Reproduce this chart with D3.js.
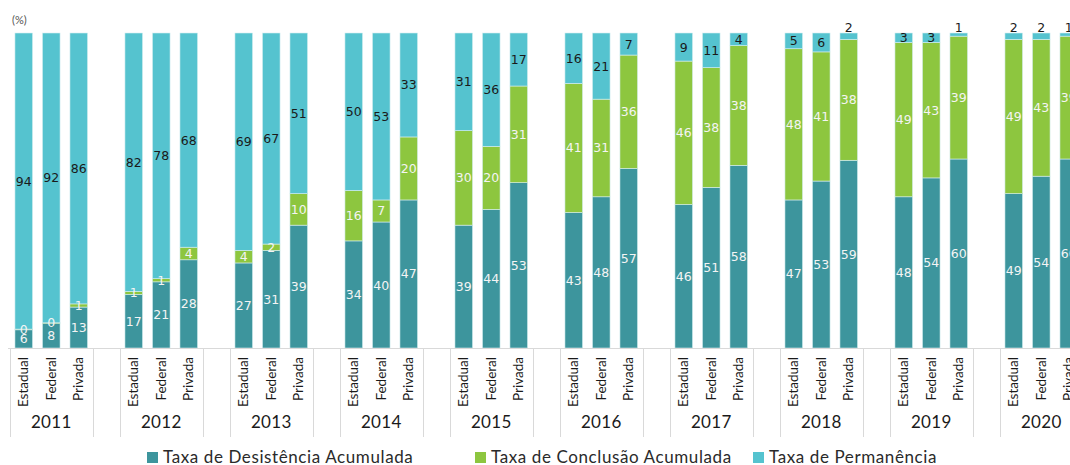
<!DOCTYPE html>
<html>
<head>
<meta charset="utf-8">
<script src="https://cdn.jsdelivr.net/npm/d3@7"></script>
<style>
    body { margin: 0; background: #fff; }
    svg text { font-family: Lato, "Open Sans", sans-serif; }
</style>
</head>
<body>
<svg id="chart" width="1070" height="465"></svg>
<script>
const years = ["2011", "2012", "2013", "2014", "2015", "2016", "2017", "2018", "2019", "2020"];
const kinds = ["Estadual", "Federal", "Privada"];
const seriesNames = ["Taxa de Desistência Acumulada", "Taxa de Conclusão Acumulada", "Taxa de Permanência"];

// per year: [Estadual, Federal, Privada]
const desistencia = [
    [6, 8, 13], [17, 21, 28], [27, 31, 39], [34, 40, 47], [39, 44, 53],
    [43, 48, 57], [46, 51, 58], [47, 53, 59], [48, 54, 60], [49, 54, 60]
];
const conclusao = [
    [0, 0, 1], [1, 1, 4], [4, 2, 10], [16, 7, 20], [30, 20, 31],
    [41, 31, 36], [46, 38, 38], [48, 41, 38], [49, 43, 39], [49, 43, 39]
];
const permanencia = [
    [94, 92, 86], [82, 78, 68], [69, 67, 51], [50, 53, 33], [31, 36, 17],
    [16, 21, 7], [9, 11, 4], [5, 6, 2], [3, 3, 1], [2, 2, 1]
];

const colors = ["#3d959d", "#8dc63f", "#55c3cf"];
const labelColors = ["#f4f4f4", "#f4f4f4", "#1a1a1a"];

const ctx = {
    LEFT: 10,
    SLOT: 27.5,
    TOP: 33,
    BOTTOM: 348,
    AXIS_END: 437,
};

const svg = d3.select("#chart");

// flat rows, one per bar, plus an empty slot after each year
const rows = [];
const slots = [];
years.forEach((y, i) => {
    kinds.forEach((k, j) => {
        const key = y + "|" + k;
        slots.push(key);
        rows.push({
            key: key, year: y, kind: k,
            s0: desistencia[i][j], s1: conclusao[i][j], s2: permanencia[i][j]
        });
    });
    slots.push(y + "|gap");
});

const x = d3.scaleBand()
    .domain(slots)
    .range([ctx.LEFT, ctx.LEFT + ctx.SLOT * slots.length])
    .paddingInner(0.36)
    .paddingOuter(0.18);

const y = d3.scaleLinear().domain([0, 1]).range([ctx.BOTTOM, ctx.TOP]);

const stack = d3.stack()
    .keys(["s0", "s1", "s2"])
    .offset(d3.stackOffsetExpand);
const stacked = stack(rows);

const layers = svg.append("g").selectAll("g")
    .data(stacked)
    .join("g")
    .attr("fill", (d, i) => colors[i]);

layers.selectAll("rect")
    .data(d => d)
    .join("rect")
    .attr("x", d => x(d.data.key))
    .attr("width", x.bandwidth())
    .attr("y", d => y(d[1]))
    .attr("height", d => Math.max(0.8, y(d[0]) - y(d[1])))
    .attr("stroke", "#d6eef0")
    .attr("stroke-width", 0.6);

// value labels
stacked.forEach((layer, i) => {
    svg.append("g").selectAll("text")
        .data(layer)
        .join("text")
        .attr("x", d => x(d.data.key) + x.bandwidth() / 2)
        .attr("y", d => {
            const h = y(d[0]) - y(d[1]);
            if (i === 2 && h < 7) return y(d[1]) - 1;
            return (y(d[0]) + y(d[1])) / 2 + 4.5;
        })
        .attr("text-anchor", "middle")
        .style("font-family", "'DejaVu Sans', Verdana, sans-serif")
        .style("font-size", "12.5px")
        .attr("fill", labelColors[i])
        .text(d => d.data["s" + i]);
});

// category axis
const axis = svg.append("g");
axis.append("line")
    .attr("x1", ctx.LEFT - 2).attr("x2", 1070)
    .attr("y1", ctx.BOTTOM + 0.5).attr("y2", ctx.BOTTOM + 0.5)
    .attr("stroke", "#d9d9d9");

years.forEach(yr => {
    const start = x(yr + "|Estadual") - x.step() * x.paddingInner() / 2;
    const end = start + x.step() * 3;
    [start, end].forEach(px => {
        axis.append("line")
            .attr("x1", Math.round(px) + 0.5).attr("x2", Math.round(px) + 0.5)
            .attr("y1", ctx.BOTTOM).attr("y2", ctx.AXIS_END)
            .attr("stroke", "#d9d9d9");
    });
    axis.append("text")
        .attr("x", (start + end) / 2)
        .attr("y", 428)
        .attr("text-anchor", "middle")
        .style("font-size", "17px")
        .style("letter-spacing", "0.3px")
        .attr("fill", "#1a1a1a")
        .text(yr);
});

axis.selectAll(".kind")
    .data(rows)
    .join("text")
    .attr("class", "kind")
    .attr("transform", d => `translate(${x(d.key) + x.bandwidth() / 2 + 4.5},357) rotate(-90)`)
    .attr("text-anchor", "end")
    .style("font-size", "13.5px")
    .attr("fill", "#1a1a1a")
    .text(d => d.kind);

// unit
svg.append("text")
    .attr("x", 12).attr("y", 24)
    .style("font-size", "11px")
    .attr("fill", "#555")
    .text("(%)");

// legend
const legendX = [147, 475, 753];
const legend = svg.append("g").selectAll("g")
    .data(seriesNames)
    .join("g")
    .attr("transform", (d, i) => `translate(${legendX[i]},452)`);
legend.append("rect")
    .attr("width", 11).attr("height", 11)
    .attr("fill", (d, i) => colors[i]);
legend.append("text")
    .attr("x", 16).attr("y", 11)
    .style("font-size", "17px")
    .style("letter-spacing", "0.6px")
    .attr("fill", "#2a2a2a")
    .text(d => d);
</script>
</body>
</html>
